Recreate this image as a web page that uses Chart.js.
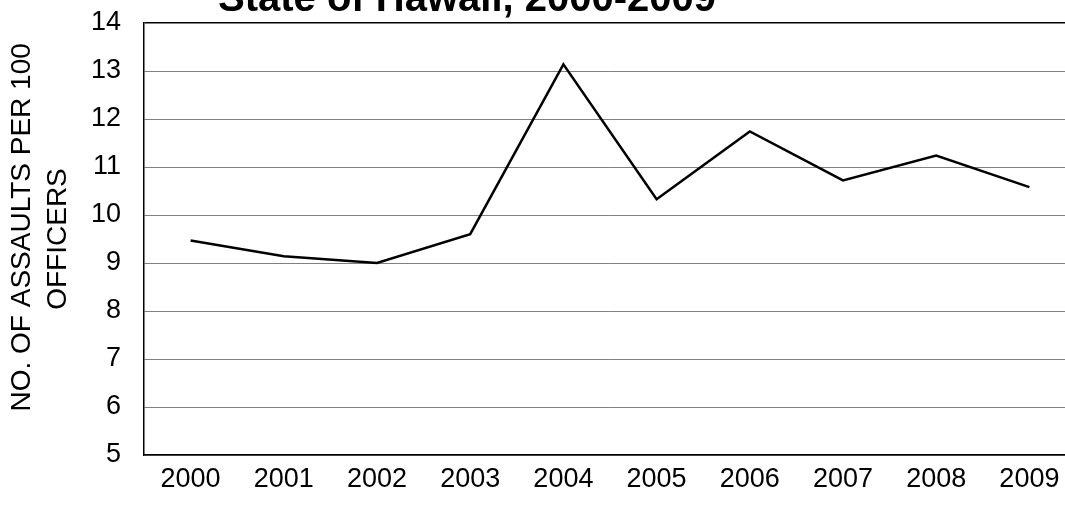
<!DOCTYPE html>
<html>
<head>
<meta charset="utf-8">
<script src="https://cdn.jsdelivr.net/npm/chart.js@4.4.1/dist/chart.umd.min.js"></script>
<style>
  html, body { margin: 0; padding: 0; background: #fff; overflow: hidden; width: 1065px; height: 508px; }
  #wrap { position: absolute; left: 0; top: 0; width: 1076px; height: 508px; }
  #title { position: absolute; left: 218px; top: -25px; line-height: 40px; font: bold 40px "Liberation Sans", Arial, sans-serif; color: #000; white-space: nowrap; z-index: 2; }
</style>
</head>
<body>
<div id="title">State of Hawaii, 2000-2009</div>
<div id="wrap"><canvas id="c"></canvas></div>
<script>
const years = ['2000','2001','2002','2003','2004','2005','2006','2007','2008','2009'];
const assaultsPer100 = [9.47, 9.14, 9.0, 9.6, 13.14, 10.33, 11.74, 10.72, 11.24, 10.58];
const yAxisTitle = ['   NO. OF ASSAULTS PER 100', 'OFFICERS'];
const yMin = 5, yMax = 14;

const FONT = '"Liberation Sans", Arial, sans-serif';
new Chart(document.getElementById('c'), {
  type: 'line',
  data: {
    labels: years,
    datasets: [{
      data: assaultsPer100,
      borderColor: '#000',
      borderWidth: 2.5,
      pointRadius: 0,
      tension: 0,
      fill: false
    }]
  },
  options: {
    responsive: true,
    maintainAspectRatio: false,
    animation: false,
    devicePixelRatio: 1,
    layout: { autoPadding: false, padding: { top: 23, bottom: 12, left: 4, right: 0 } },
    plugins: { legend: { display: false }, tooltip: { enabled: false } },
    scales: {
      x: {
        type: 'category',
        offset: true,
        grid: { display: false, drawTicks: false },
        border: { display: true, color: '#000', width: 1.5 },
        ticks: { color: '#000', font: { family: FONT, size: 27 }, padding: 8, maxRotation: 0, autoSkip: false },
        afterFit: s => { s.height = 41; }
      },
      y: {
        min: yMin, max: yMax,
        grid: {
          drawTicks: true,
          tickLength: 23,
          tickColor: 'rgba(0,0,0,0)',
          color: ctx => (ctx.tick && ctx.tick.value === yMax) ? '#000' : '#808080',
          lineWidth: ctx => (ctx.tick && ctx.tick.value === yMax) ? 1.5 : 1
        },
        border: { display: true, color: '#000', width: 1.5 },
        ticks: { stepSize: 1, color: '#000', font: { family: FONT, size: 27 }, padding: 0 },
        title: {
          display: true,
          text: yAxisTitle,
          color: '#000',
          font: { family: FONT, size: 28, lineHeight: 1.3 },
          padding: { top: 0, bottom: 0 }
        },
        afterFit: s => { s.width = 140; }
      }
    }
  }
});
</script>
</body>
</html>
